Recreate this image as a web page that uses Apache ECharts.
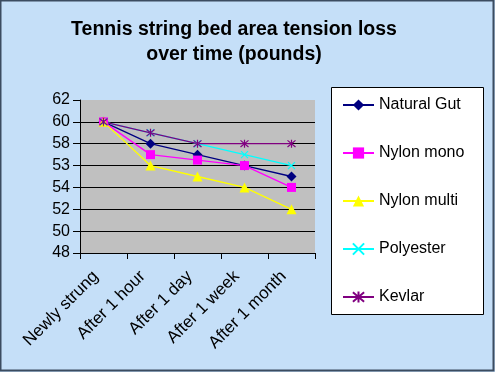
<!DOCTYPE html>
<html><head><meta charset="utf-8">
<script src="https://cdn.jsdelivr.net/npm/echarts@6/dist/echarts.min.js"></script>
<style>html,body{margin:0;padding:0;background:#C5DFF8;}#c{width:495px;height:372px;}</style>
</head><body><div id="c"></div>
<script>
const categories = ['Newly strung','After 1 hour','After 1 day','After 1 week','After 1 month'];
const naturalGut = [60, 58, 57, 56, 55];
const nylonMono  = [60, 57, 56.5, 56, 54];
const nylonMulti = [60, 56, 55, 54, 52];
const polyester  = [60, 59, 58, 57, 56];
const kevlar     = [60, 59, 58, 58, 58];
const yTickValues = [48, 50, 52, 54, 56, 58, 60, 62];
const yTickLabels = ['48','50','52','54','53','58','60','62'];

const FONT = "'Liberation Sans', Arial, Helvetica, sans-serif";
const xPath = 'path://M0,0 L10,10 M10,0 L0,10';
const starPath = 'path://M0,0 L10,10 M10,0 L0,10 M5,-1 L5,11';

function mk(name, data, color, symbol, size, stroke) {
  return {
    name, type: 'line', data, symbol, symbolSize: size,
    lineStyle: { color, width: 1.3 },
    itemStyle: stroke ? { color: 'rgba(0,0,0,0)', borderColor: color, borderWidth: 1.2 } : { color },
    emphasis: { disabled: true }, animation: false
  };
}

const chart = echarts.init(document.getElementById('c'));
chart.setOption({
  backgroundColor: '#C5DFF8',
  animation: false,
  textStyle: { fontFamily: FONT },
  title: {
    text: 'Tennis string bed area tension loss\nover time (pounds)',
    left: 229, top: 12, textAlign: 'center',
    textStyle: { fontFamily: FONT, fontSize: 19.5, fontWeight: 'bold', color: '#000', lineHeight: 25 }
  },
  graphic: [
    { type: 'rect', shape: { x: 0.5, y: 0.5, width: 493, height: 370 }, style: { fill: 'none', stroke: '#3c4c60', lineWidth: 2 }, z: 100 },
    { type: 'rect', shape: { x: 331.5, y: 87.5, width: 152, height: 227 }, style: { fill: '#fff', stroke: '#000', lineWidth: 1 }, z: 0 }
  ],
  legend: {
    orient: 'vertical', left: 337, top: 92,
    itemGap: 32, itemWidth: 31, itemHeight: 14,
    textStyle: { fontFamily: FONT, fontSize: 16, color: '#000' },
    data: ['Natural Gut','Nylon mono','Nylon multi','Polyester','Kevlar'], z: 10
  },
  grid: { left: 80, top: 100, right: 180, bottom: 119, show: true, backgroundColor: '#C0C0C0', borderWidth: 0 },
  xAxis: {
    type: 'category', data: categories, boundaryGap: true,
    axisLine: { lineStyle: { color: '#000', width: 1 } },
    axisTick: { show: true, length: 6, lineStyle: { color: '#000' } },
    axisLabel: { rotate: 45, fontSize: 17, color: '#000', margin: 13, padding: [0, 11, 0, 0], fontFamily: FONT, interval: 0 }
  },
  yAxis: {
    type: 'value', min: 48, max: 62, interval: 2,
    axisLine: { show: true, lineStyle: { color: '#000', width: 1 } },
    axisTick: { show: true, length: 7, lineStyle: { color: '#000' } },
    axisLabel: { fontSize: 16, color: '#000', margin: 10, fontFamily: FONT,
      formatter: v => { const i = yTickValues.indexOf(v); return i >= 0 ? yTickLabels[i] : ''; } },
    splitLine: { show: true, lineStyle: { color: ['#000','#000','#000','#000','#000','#000','#000','#C0C0C0'], width: 1 } }
  },
  series: [
    mk('Natural Gut', naturalGut, '#000080', 'diamond', 10, false),
    mk('Nylon mono', nylonMono, '#FF00FF', 'rect', 9, false),
    mk('Nylon multi', nylonMulti, '#FFFF00', 'triangle', 10, false),
    mk('Polyester', polyester, '#00FFFF', xPath, 7, true),
    mk('Kevlar', kevlar, '#800080', starPath, 8, true)
  ]
});
</script></body></html>
